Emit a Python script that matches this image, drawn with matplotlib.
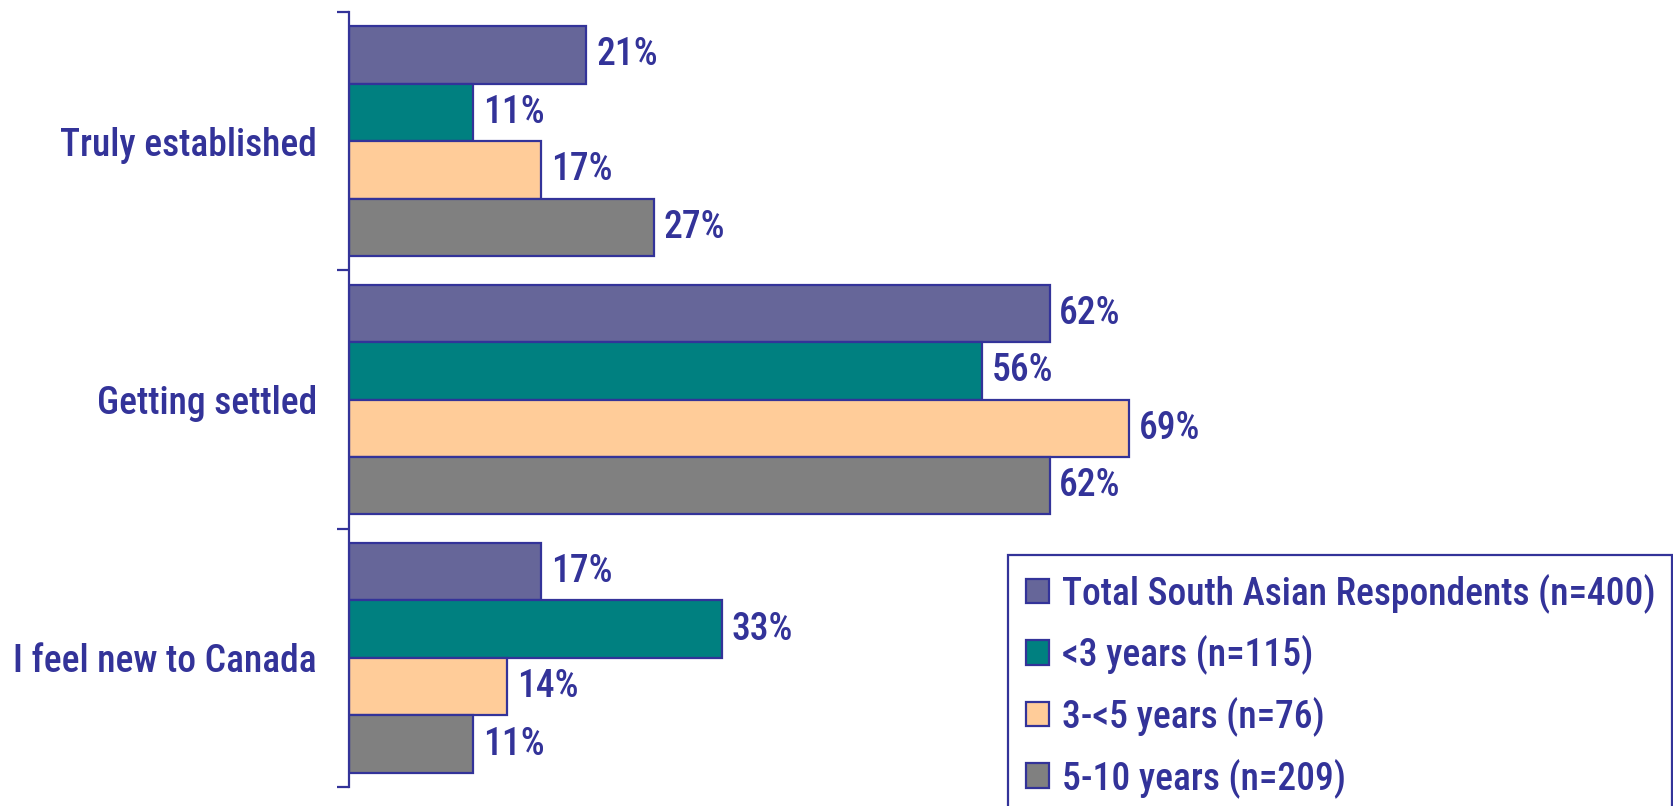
import matplotlib
matplotlib.use("Agg")
import matplotlib.pyplot as plt
from matplotlib.patches import Rectangle
import numpy as np

categories = ["Truly established", "Getting settled", "I feel new to Canada"]
series_names = ["Total South Asian Respondents (n=400)", "<3 years (n=115)",
                "3-<5 years (n=76)", "5-10 years (n=209)"]
total = [21, 62, 17]
lt3 = [11, 56, 33]
y3to5 = [17, 69, 14]
y5to10 = [27, 62, 11]
series_values = [total, lt3, y3to5, y5to10]
colors = ["#666699", "#008080", "#FFCC99", "#808080"]
navy = "#333399"

plt.rcParams["font.family"] = ["Roboto Condensed", "DejaVu Sans"]
plt.rcParams["font.weight"] = 500

W, H = 1674, 806
fig = plt.figure(figsize=(W / 100, H / 100), dpi=100)
ax = fig.add_axes([349 / W, 1 - 787 / H, 1130 / W, 775 / H])

fs = 27
bh = 0.2225
y = np.arange(len(categories))
for i, (vals, col, name) in enumerate(zip(series_values, colors, series_names)):
    pos = y - 2 * bh + bh / 2 + i * bh
    bars = ax.barh(pos, vals, height=bh, color=col, edgecolor=navy, linewidth=1.6, label=name)
    for b, v in zip(bars, vals):
        ax.annotate(f"{v}%", (b.get_width(), b.get_y() + b.get_height() / 2),
                    xytext=(7, 0), textcoords="offset points", va="center", ha="left",
                    fontsize=fs, color=navy, fontweight=500)

ax.set_xlim(0, 100)
ax.set_ylim(2.5, -0.5)
for s in ["top", "right", "bottom"]:
    ax.spines[s].set_visible(False)
ax.spines["left"].set_color(navy)
ax.spines["left"].set_linewidth(1.6)
ax.set_xticks([])
ax.set_yticks([-0.5, 0.5, 1.5, 2.5])
ax.set_yticklabels([])
ax.tick_params(axis="y", which="major", length=9, width=1.6, color=navy, direction="out")
ax.set_yticks(y, minor=True)
ax.set_yticklabels(categories, minor=True, fontweight=500)
ax.tick_params(axis="y", which="minor", length=0, pad=23, labelsize=fs, labelcolor=navy)

# legend frame (extends past figure edge)
fig.patches.append(Rectangle((1008 / W, -0.05), (1672 - 1008) / W, 0.05 + 1 - 555 / H,
                             transform=fig.transFigure, facecolor="white",
                             edgecolor=navy, linewidth=1.6, zorder=5))
leg = fig.legend(loc="upper left", bbox_to_anchor=(1026 / W, 1 - 573 / H),
                 frameon=False, prop={"size": fs, "weight": 500},
                 handlelength=0.62, handleheight=0.62,
                 handletextpad=0.34, labelspacing=0.58, borderpad=0, borderaxespad=0)
leg.set_zorder(6)
for t in leg.get_texts():
    t.set_color(navy)

fig.savefig("out.png", dpi=100)
